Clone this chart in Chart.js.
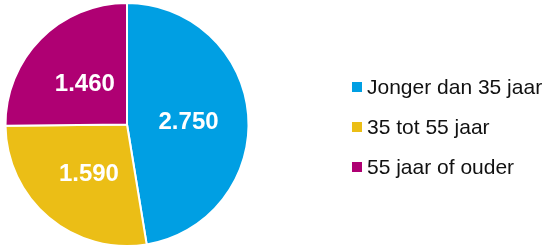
<!DOCTYPE html>
<html>
<head>
<meta charset="utf-8">
<script src="https://cdn.jsdelivr.net/npm/chart.js@4"></script>
<style>
  html, body { margin: 0; padding: 0; background: #fff; }
  #wrap { width: 548px; height: 247px; position: relative; }
</style>
</head>
<body>
<div id="wrap"><canvas id="pieChart"></canvas></div>
<script>
const categories = ['Jonger dan 35 jaar', '35 tot 55 jaar', '55 jaar of ouder'];
const values = [2750, 1590, 1460];
const valueLabels = ['2.750', '1.590', '1.460'];
const colors = ['#009FE3', '#EBBE16', '#AF0073'];

// white value labels inside the slices
const sliceLabels = {
    id: 'sliceLabels',
    afterDatasetsDraw(chart) {
        const ctx = chart.ctx;
        const meta = chart.getDatasetMeta(0);
        ctx.save();
        ctx.fillStyle = '#fff';
        ctx.font = 'bold 24px "Liberation Sans", Arial, sans-serif';
        ctx.textAlign = 'center';
        ctx.textBaseline = 'middle';
        meta.data.forEach((arc, i) => {
            const p = arc.tooltipPosition();
            ctx.fillText(valueLabels[i], p.x + 1, p.y + 3);
        });
        ctx.restore();
    }
};

// legend on the right
const sideLegend = {
    id: 'sideLegend',
    afterDraw(chart) {
        const ctx = chart.ctx;
        ctx.save();
        ctx.font = '21px "Liberation Sans", Arial, sans-serif';
        ctx.textBaseline = 'middle';
        categories.forEach((name, i) => {
            const y = 87 + i * 40;
            ctx.fillStyle = colors[i];
            ctx.fillRect(352, y - 5, 10, 10);
            ctx.fillStyle = '#111';
            ctx.fillText(name, 367, y + 1);
        });
        ctx.restore();
    }
};

new Chart(document.getElementById('pieChart'), {
    type: 'pie',
    data: {
        labels: categories,
        datasets: [{
            data: values,
            backgroundColor: colors,
            borderColor: '#fff',
            borderWidth: 2
        }]
    },
    options: {
        responsive: true,
        maintainAspectRatio: false,
        animation: false,
        layout: { padding: { top: 2, bottom: 0, left: 3, right: 297 } },
        plugins: {
            legend: { display: false },
            tooltip: { enabled: false }
        }
    },
    plugins: [sliceLabels, sideLegend]
});
</script>
</body>
</html>
